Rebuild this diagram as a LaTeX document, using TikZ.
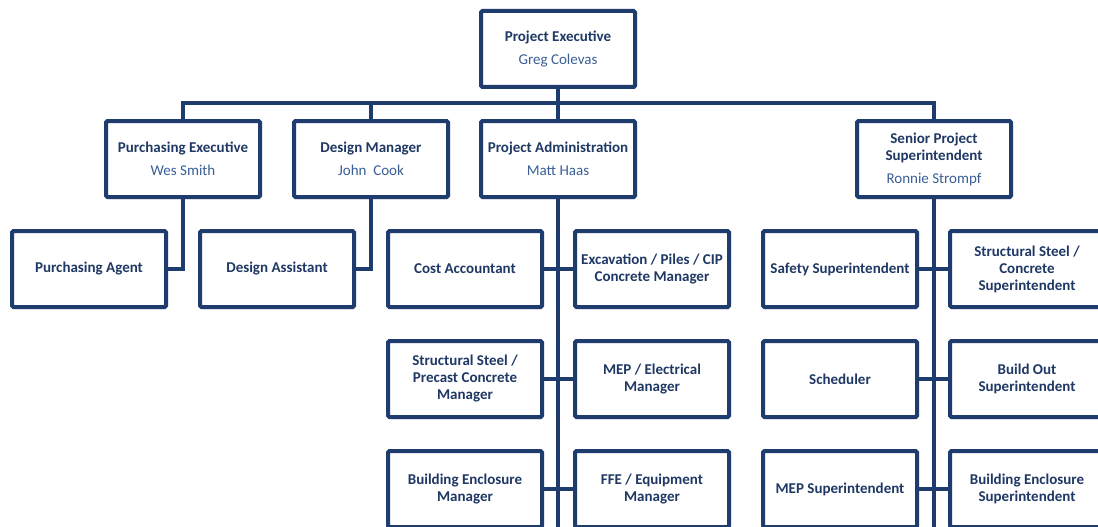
\documentclass[tikz,border=0pt]{standalone}
\usepackage{fontspec}
\setmainfont{Carlito}
\usepackage{xcolor}
\usetikzlibrary{shadows}
\definecolor{navy}{HTML}{1F3C6E}
\definecolor{titlecol}{HTML}{1F3864}
\definecolor{namecol}{HTML}{3A5F97}
\begin{document}
\begin{tikzpicture}[x=1pt,y=-1pt, box/.style={draw=navy,line width=4pt,fill=white,rounded corners=1.5pt,
minimum width=154pt,minimum height=76pt,align=center,text=titlecol,font=\fontsize{15}{17}\selectfont\bfseries,
drop shadow={shadow xshift=1.5pt,shadow yshift=-2pt,opacity=.3,fill=black!70}},
link/.style={draw=navy,line width=4pt}]
\path[use as bounding box,clip] (0,0) rectangle (1098,527);
\fill[white] (0,0) rectangle (1098,527);
\par
% top of the chart
\node[box] (exec) at (558,49) {Project Executive\\[6pt]{\mdseries\color{namecol}Greg Colevas}};
\node[box] (purch) at (183,159) {Purchasing Executive\\[6pt]{\mdseries\color{namecol}Wes Smith}};
\node[box] (design) at (371,159) {Design Manager\\[6pt]{\mdseries\color{namecol}John~~Cook}};
\node[box] (admin) at (558,159) {Project Administration\\[6pt]{\mdseries\color{namecol}Matt Haas}};
\node[box] (senior) at (934,159) {Senior Project\\Superintendent\\[6pt]{\mdseries\color{namecol}Ronnie Strompf}};
\coordinate (bus) at (558,103);
\coordinate (adminend) at (558,540);
\coordinate (seniorend) at (934,540);
\par
% staff rows
\node[box] (agent) at (89,269) {Purchasing Agent};
\node[box] (assist) at (277,269) {Design Assistant};
\node[box] (cost) at (465,269) {Cost Accountant};
\node[box] (excav) at (652,269) {Excavation / Piles / CIP\\Concrete Manager};
\node[box] (precast) at (465,379) {Structural Steel /\\Precast Concrete\\Manager};
\node[box] (electric) at (652,379) {MEP / Electrical\\Manager};
\node[box] (enclmgr) at (465,489) {Building Enclosure\\Manager};
\node[box] (ffe) at (652,489) {FFE / Equipment\\Manager};
\node[box] (safety) at (840,269) {Safety Superintendent};
\node[box] (steel) at (1027,269) {Structural Steel /\\Concrete\\Superintendent};
\node[box] (sched) at (840,379) {Scheduler};
\node[box] (buildout) at (1027,379) {Build Out\\Superintendent};
\node[box] (mep) at (840,489) {MEP Superintendent};
\node[box] (enclsup) at (1027,489) {Building Enclosure\\Superintendent};
\par
% connectors
\draw[link] (exec) -- (bus);
\draw[link] (purch.north) |- (bus) -| (senior.north);
\draw[link] (design.north) -- (design.north |- bus);
\draw[link] (bus) -- (admin);
\draw[link] (purch) |- (agent);
\draw[link] (design) |- (assist);
\draw[link] (admin) -- (adminend);
\draw[link] (senior) -- (seniorend);
\draw[link] (cost) -- (excav);
\draw[link] (precast) -- (electric);
\draw[link] (enclmgr) -- (ffe);
\draw[link] (safety) -- (steel);
\draw[link] (sched) -- (buildout);
\draw[link] (mep) -- (enclsup);
\end{tikzpicture}
\end{document}
